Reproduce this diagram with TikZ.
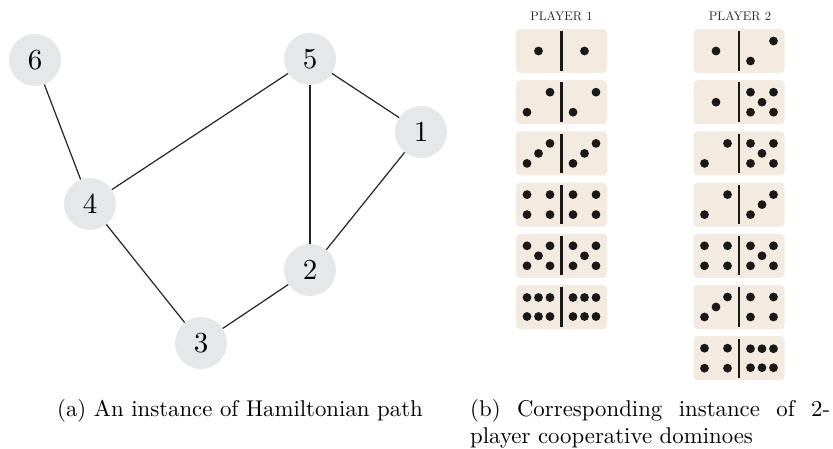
\documentclass[tikz,border=0pt]{standalone}
\usepackage{fontspec}
\setmainfont{lmroman10-regular.otf}
\definecolor{nodegray}{RGB}{230,231,233}
\definecolor{edgecol}{RGB}{35,35,35}
\definecolor{domfill}{RGB}{243,235,224}
\definecolor{pipcol}{RGB}{25,25,25}
\definecolor{labelcol}{RGB}{40,40,40}
\newcommand\pipset[1]{%
  \ifcase#1\relax
  \or \fill[pip] (0,0) circle (4.4pt);
  \or \fill[pip] (11.5,-10) circle (4.4pt) (-11.5,10) circle (4.4pt);
  \or \fill[pip] (11.5,-10) circle (4.4pt) (0,0) circle (4.4pt) (-11.5,10) circle (4.4pt);
  \or \fill[pip] (11.5,-10) circle (4.4pt) (-11.5,-10) circle (4.4pt) (11.5,10) circle (4.4pt) (-11.5,10) circle (4.4pt);
  \or \fill[pip] (11.5,-10) circle (4.4pt) (-11.5,-10) circle (4.4pt) (11.5,10) circle (4.4pt) (-11.5,10) circle (4.4pt) (0,0) circle (4.4pt);
  \or \fill[pip] (11.5,-9.5) circle (4.4pt) (0,-9.5) circle (4.4pt) (-11.5,-9.5) circle (4.4pt) (11.5,9.5) circle (4.4pt) (0,9.5) circle (4.4pt) (-11.5,9.5) circle (4.4pt);
  \fi}
\newcommand\dom[5]{%
  \node[domino] (#1) at (#2,#3) {};
  \draw[divider] (#1.north) -- (#1.south);
  \begin{scope}[shift={(#2-23,#3)}]\pipset{#4}\end{scope}
  \begin{scope}[shift={(#2+23,#3)}]\pipset{#5}\end{scope}
}
\begin{document}
\begin{tikzpicture}[x=1pt,y=-1pt,
  gnode/.style={circle,fill=nodegray,minimum size=52pt,inner sep=0pt,font=\fontsize{29}{29}\selectfont},
  edge/.style={draw=edgecol,line width=1.2pt},
  domino/.style={rectangle,rounded corners=4pt,fill=domfill,minimum width=91pt,minimum height=44pt,inner sep=0pt},
  divider/.style={draw=pipcol,line width=2.2pt,shorten <=2.5pt,shorten >=2.5pt},
  pip/.style={fill=pipcol},
  plabel/.style={font=\fontsize{12.5}{14}\selectfont,text=labelcol,inner sep=0pt},
  capt/.style={font=\fontsize{22.8}{27.4}\selectfont,inner sep=0pt,anchor=base west}]
\useasboundingbox (0,0) rectangle (833,449);
% graph
\node[gnode] (n6) at (35,60) {6};
\node[gnode] (n5) at (310,59) {5};
\node[gnode] (n1) at (421,132) {1};
\node[gnode] (n4) at (90,204) {4};
\node[gnode] (n2) at (310,270) {2};
\node[gnode] (n3) at (201,343) {3};
\draw[edge] (n6) -- (n4);
\draw[edge] (n4) -- (n5);
\draw[edge] (n4) -- (n3);
\draw[edge] (n3) -- (n2);
\draw[edge] (n2) -- (n5);
\draw[edge] (n2) -- (n1);
\draw[edge] (n5) -- (n1);
% dominoes
\node[plabel] (l1) at (561.5,16.5) {PLAYER 1};
\node[plabel] (l2) at (740,16.5) {PLAYER 2};
\dom{a1}{561.5}{51}{1}{1}
\dom{a2}{561.5}{102.2}{2}{2}
\dom{a3}{561.5}{153.4}{3}{3}
\dom{a4}{561.5}{204.6}{4}{4}
\dom{a5}{561.5}{255.8}{5}{5}
\dom{a6}{561.5}{307}{6}{6}
\dom{b1}{739}{51}{1}{2}
\dom{b2}{739}{102.2}{1}{5}
\dom{b3}{739}{153.4}{2}{5}
\dom{b4}{739}{204.6}{2}{3}
\dom{b5}{739}{255.8}{4}{5}
\dom{b6}{739}{307}{3}{4}
\dom{b7}{739}{358.2}{4}{6}
% captions
\node[capt] (ca) at (57,416) {(a) An instance of Hamiltonian path};
\node[capt] (cb1) at (470,416) {\makebox[360pt][s]{(b) Corresponding instance of 2-}};
\node[capt] (cb2) at (470,443) {player cooperative dominoes};
\end{tikzpicture}
\end{document}
